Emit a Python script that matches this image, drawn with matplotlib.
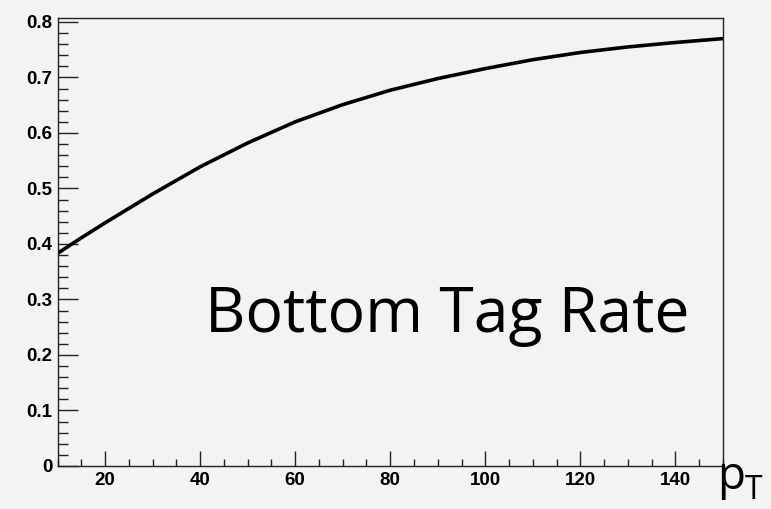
import matplotlib
matplotlib.use("Agg")
import matplotlib.pyplot as plt
from matplotlib.ticker import MultipleLocator

# bottom tag rate vs pT
pt = [10, 15, 20, 30, 40, 50, 60, 70, 80, 90, 100, 110, 120, 130, 140, 150]
rate = [0.383, 0.411, 0.438, 0.490, 0.539, 0.582, 0.620, 0.651, 0.677, 0.698,
        0.716, 0.732, 0.745, 0.755, 0.763, 0.770]

bg = "#f5f2f5"
fig = plt.figure(figsize=(7.71, 5.09), dpi=100, facecolor=bg)
ax = fig.add_axes([0.0746, 0.0845, 0.9377 - 0.0746, 0.9656 - 0.0845])
ax.set_facecolor(bg)

ax.plot(pt, rate, color="black", lw=2.6, solid_capstyle="butt", solid_joinstyle="round")

ax.set_xlim(10, 150)
ax.set_ylim(0, 0.808)
ax.xaxis.set_major_locator(MultipleLocator(20))
ax.xaxis.set_minor_locator(MultipleLocator(5))
ax.yaxis.set_major_locator(MultipleLocator(0.1))
ax.yaxis.set_minor_locator(MultipleLocator(0.02))
ax.set_yticks([0, 0.1, 0.2, 0.3, 0.4, 0.5, 0.6, 0.7, 0.8])
ax.set_yticklabels(["0", "0.1", "0.2", "0.3", "0.4", "0.5", "0.6", "0.7", "0.8"])
ax.set_xticks([20, 40, 60, 80, 100, 120, 140])

for s in ax.spines.values():
    s.set_linewidth(1.0)
    s.set_color("#222222")

ax.tick_params(axis="x", which="major", direction="in", length=10.8, width=1, pad=4.5, color="#222222")
ax.tick_params(axis="x", which="minor", direction="in", length=5.3, width=1, color="#222222")
ax.tick_params(axis="y", which="major", direction="in", length=14.6, width=1, pad=3.5, color="#222222")
ax.tick_params(axis="y", which="minor", direction="in", length=7.2, width=1, color="#222222")
for lab in ax.get_xticklabels() + ax.get_yticklabels():
    lab.set_fontfamily("Liberation Sans")
    lab.set_fontweight("bold")
    lab.set_fontsize(13.5)

fig.text(205 / 771, 1 - 332 / 509, "Bottom Tag Rate", fontsize=45,
         family="Open Sans", va="baseline", ha="left")
# pT label sits in the bottom-right corner; kept just inside the canvas
fig.text(717 / 771, 1 - 489 / 509, "p", fontsize=33,
         family="Open Sans", va="baseline", ha="left")
fig.text(745 / 771, 1 - 499 / 509, "T", fontsize=23,
         family="Open Sans", va="baseline", ha="left")

fig.savefig("out.png", dpi=100, facecolor=bg)
